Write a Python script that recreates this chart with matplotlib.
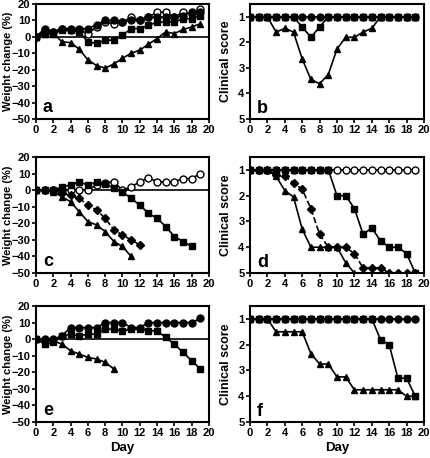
import matplotlib
matplotlib.use("Agg")
import matplotlib.pyplot as plt
import numpy as np

plt.rcParams['font.family'] = ['Liberation Sans', 'DejaVu Sans']
plt.rcParams['font.weight'] = 'bold'

days = list(range(20))

# Panel a (weight change %)
a_circle = [0, 5, 3, 5, 5, 5, 5, 7.5, 10, 10, 9, 10, 10, 12, 12, 12, 12, 13, 15, 15]
a_open = [0, 4, 3, 5, 4, 4, 2, 6, 9, 8, 9, 12, 10, 12, 15, 15, 12, 15, 14, 17]
a_square = [0, 2, 2, 4, 4, 3, -3, -4, -2, -2, 1, 5, 5, 7, 9, 9, 9, 11, 11, 13]
a_triangle = [0, 2, 2, -3, -3.5, -7.5, -14, -17.5, -19, -16.5, -13, -10, -8, -4.5, -1, 3, 2, 4.5, 6, 8]

# Panel b (clinical score)
b_circle = [1] * 20
b_square = [1, 1, 1, 1, 1, 1, 1.4, 1.8, 1.4, 1, 1, 1, 1, 1, 1, 1, 1, 1, 1, 1]
b_triangle = [1, 1, 1, 1.6, 1.45, 1.6, 2.65, 3.45, 3.62, 3.26, 2.26, 1.8, 1.8, 1.6, 1.45, 1, 1, 1, 1, 1]

# Panel c (weight change %)
c_open = [0, 0, 0, 0, 0, 0, 0, 3, 4.5, 5, 0, 2, 5, 7.5, 5, 5, 5, 7, 7, 10]
c_square = [0, 0, 0, 2, 3, 5, 3, 5, 4, 1, -1, -5, -9, -14, -17, -22, -28, -31, -34]
c_triangle = [0, 0, -1, -4, -7, -13, -19, -21, -25, -31, -34, -40]
c_diamond = [0, 0, 0, -2, -3, -5, -9, -12, -17, -24, -27, -30, -33]

# Panel d (clinical score)
d_open = [1] * 20
d_square = [1, 1, 1, 1, 1, 1, 1, 1, 1, 1, 2, 2, 2.5, 3.5, 3.25, 3.75, 4, 4, 4.25, 5]
d_triangle = [1, 1, 1, 1.25, 1.8, 2.05, 3.3, 4, 4, 4, 4, 4.6, 5]
d_diamond = [1, 1, 1, 1.2, 1.25, 1.5, 1.75, 2.5, 3.5, 4, 4, 4, 4.25, 4.8, 4.8, 4.8, 5, 5, 5, 5]

# Panel e (weight change %)
e_circle = [0, 0, 0, 2, 7, 7, 7, 7, 10, 10, 10, 7, 7, 10, 10, 10, 10, 10, 10, 12.5]
e_square = [0, -3, -2, 2, 3, 2, 3, 3, 6, 6, 5, 6, 6, 5, 5, 1, -3, -8, -13, -18]
e_triangle = [0, -1, -1, -3, -7, -9, -11, -12, -14, -18]

# Panel f (clinical score)
f_circle = [1] * 20
f_square = [1, 1, 1, 1, 1, 1, 1, 1, 1, 1, 1, 1, 1, 1, 1, 1.8, 2, 3.3, 3.3, 4]
f_triangle = [1, 1, 1, 1.5, 1.5, 1.5, 1.5, 2.35, 2.75, 2.75, 3.25, 3.25, 3.75, 3.75, 3.75, 3.75, 3.75, 3.75, 4, 4]

W, H = 431, 458
fig = plt.figure(figsize=(W / 100, H / 100), dpi=100)

def frac(l, r, t, b):
    return [l / W, 1 - b / H, (r - l) / W, (b - t) / H]

lefts = [(36, 209), (250, 424)]
rows = [(4, 119), (157, 273), (306, 422)]

ms = 5
def series(ax, y, marker, fill=True, ls='-', size=ms):
    x = days[:len(y)]
    ax.plot(x, y, color='black', lw=1.2, ls=ls, marker=marker, ms=size,
            mfc='black' if fill else 'white', mec='black', mew=1.0, zorder=3)

def style(ax, weight, label, bottom):
    ax.set_xlim(0, 20)
    ax.set_xticks(range(0, 21, 2))
    for s in ax.spines.values():
        s.set_linewidth(1.5)
    ax.tick_params(direction='out', length=3, width=1.2, labelsize=8, pad=1)
    for t in ax.get_xticklabels() + ax.get_yticklabels():
        t.set_fontweight('bold')
    if weight:
        ax.set_ylim(-50, 20)
        ax.set_yticks(range(-50, 21, 10))
        ax.axhline(0, color='black', lw=1.2, zorder=2)
        ax.set_ylabel('Weight change (%)', fontsize=8, fontweight='bold')
        ax.yaxis.set_label_coords(-0.134, 0.5)
        ax.text(0.8, -43, label, fontsize=13, fontweight='bold', ha='left', va='center')
    else:
        ax.set_ylim(5, 0.5)
        ax.set_yticks([1, 2, 3, 4, 5])
        ax.set_ylabel('Clinical score', fontsize=9, fontweight='bold')
        ax.yaxis.set_label_coords(-0.105, 0.5)
        ax.text(0.8, 4.6, label, fontsize=13, fontweight='bold', ha='left', va='center')
    if bottom:
        ax.set_xlabel('Day', fontsize=9.5, fontweight='bold', labelpad=3)

axs = {}
for ri, (t, b) in enumerate(rows):
    for ci, (l, r) in enumerate(lefts):
        axs[(ri, ci)] = fig.add_axes(frac(l, r, t, b))

ax = axs[(0, 0)]
series(ax, a_open, 'o', fill=False)
series(ax, a_circle, 'o')
series(ax, a_square, 's')
series(ax, a_triangle, '^')
style(ax, True, 'a', False)

ax = axs[(0, 1)]
series(ax, b_triangle, '^')
series(ax, b_square, 's')
series(ax, b_circle, 'o')
style(ax, False, 'b', False)

ax = axs[(1, 0)]
series(ax, c_open, 'o', fill=False)
series(ax, c_square, 's')
series(ax, c_diamond, 'D', ls='--', size=3.8)
series(ax, c_triangle, '^')
style(ax, True, 'c', False)

ax = axs[(1, 1)]
series(ax, d_open, 'o', fill=False)
series(ax, d_triangle, '^')
series(ax, d_diamond, 'D', ls='--', size=3.8)
series(ax, d_square, 's')
style(ax, False, 'd', False)

ax = axs[(2, 0)]
series(ax, e_circle, 'o')
series(ax, e_square, 's')
series(ax, e_triangle, '^')
style(ax, True, 'e', True)

ax = axs[(2, 1)]
series(ax, f_triangle, '^')
series(ax, f_square, 's')
series(ax, f_circle, 'o')
style(ax, False, 'f', True)

fig.savefig('out.png', dpi=100)
